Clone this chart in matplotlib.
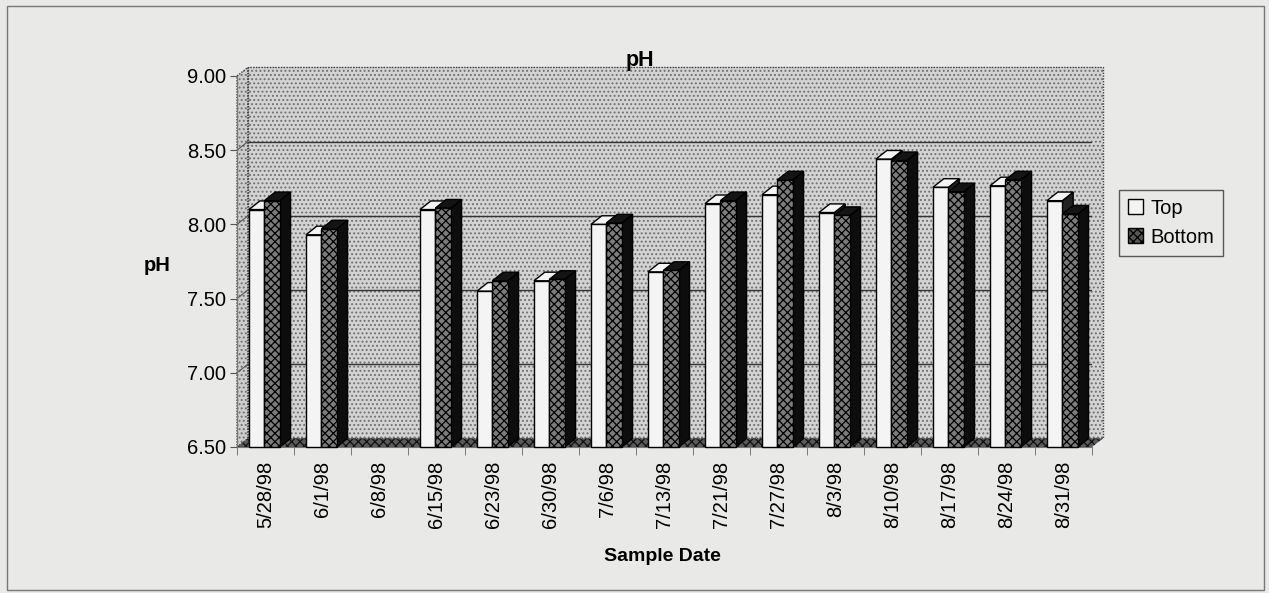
import numpy as np
import matplotlib
matplotlib.use("Agg")
import matplotlib.pyplot as plt
from matplotlib.patches import Polygon, Rectangle, Patch

plt.rcParams["font.family"] = ["Liberation Sans", "DejaVu Sans"]
plt.rcParams["hatch.linewidth"] = 0.9

# data (6/8/98 has no values)
dates = ["5/28/98", "6/1/98", "6/8/98", "6/15/98", "6/23/98", "6/30/98", "7/6/98",
         "7/13/98", "7/21/98", "7/27/98", "8/3/98", "8/10/98", "8/17/98", "8/24/98",
         "8/31/98"]
ph_top = [8.10, 7.93, np.nan, 8.10, 7.55, 7.62, 8.00,
          7.68, 8.14, 8.20, 8.08, 8.44, 8.25, 8.26, 8.16]
ph_bottom = [8.16, 7.97, np.nan, 8.11, 7.62, 7.63, 8.01,
             7.69, 8.16, 8.30, 8.06, 8.43, 8.22, 8.30, 8.07]
y_ticks = [6.5, 7.0, 7.5, 8.0, 8.5, 9.0]

BG = "#e9e9e7"
Y0, Y1 = 6.5, 9.0
DX, DY = 0.19, 0.058  # fake 3-D depth offset
BAR_W = 0.27


def stipple(ax, pts, face, dots, hatch="....", z=1):
    ax.add_patch(Polygon(pts, closed=True, facecolor=face, edgecolor="none",
                         zorder=z, clip_on=False))
    ax.add_patch(Polygon(pts, closed=True, fill=False, edgecolor=dots, hatch=hatch,
                         linewidth=0, zorder=z, clip_on=False))


def bar3d(ax, left, h, front, top, side, hatch=None, z=5):
    r = left + BAR_W
    side_pts = [(r, Y0), (r + DX, Y0 + DY), (r + DX, h + DY), (r, h)]
    top_pts = [(left, h), (r, h), (r + DX, h + DY), (left + DX, h + DY)]
    ax.add_patch(Polygon(side_pts, facecolor=side, edgecolor="black", lw=1.0,
                         zorder=z, clip_on=False))
    ax.add_patch(Polygon(top_pts, facecolor=top, edgecolor="black", lw=1.0,
                         zorder=z, clip_on=False))
    ax.add_patch(Rectangle((left, Y0), BAR_W, h - Y0, facecolor=front,
                           edgecolor="black", lw=1.0, hatch=hatch, zorder=z,
                           clip_on=False))


fig = plt.figure(figsize=(12.69, 5.93), dpi=100, facecolor=BG)
fig.patches.append(Rectangle((7 / 1269, 3 / 593), 1257 / 1269, 584 / 593,
                             transform=fig.transFigure, fill=False,
                             edgecolor="#777777", lw=1.0))

ax = fig.add_axes([237 / 1269, 1 - 447 / 593, 855 / 1269, 371 / 593])
ax.set_facecolor("none")
x = np.arange(len(dates))
xmin, xmax = -0.5, len(dates) - 0.5
ax.set_xlim(xmin, xmax)
ax.set_ylim(Y0, Y1)

# walls and floor
back = [(xmin + DX, Y0 + DY), (xmax + DX, Y0 + DY), (xmax + DX, Y1 + DY), (xmin + DX, Y1 + DY)]
side = [(xmin, Y0), (xmin + DX, Y0 + DY), (xmin + DX, Y1 + DY), (xmin, Y1)]
floor = [(xmin, Y0), (xmax, Y0), (xmax + DX, Y0 + DY), (xmin + DX, Y0 + DY)]
stipple(ax, back, "#d3d3d3", "#707070")
stipple(ax, side, "#cdcdcd", "#707070")
stipple(ax, floor, "#5a5a5a", "#111111", hatch="xxxx")
for pts in (back, side):
    ax.add_patch(Polygon(pts, fill=False, edgecolor="#444444", lw=1.0, ls=(0, (1, 1)),
                         zorder=2, clip_on=False))
for v in y_ticks[1:-1]:
    ax.plot([xmin + DX, xmax + DX], [v + DY, v + DY], color="#333333", lw=1.0, zorder=2)
    ax.plot([xmin, xmin + DX], [v, v + DY], color="#555555", lw=0.8, zorder=2)

for xi, t, b in zip(x, ph_top, ph_bottom):
    if not np.isnan(t):
        bar3d(ax, xi - 0.29, t, "#f4f4f4", "#f4f4f4", "#222222")
    if not np.isnan(b):
        bar3d(ax, xi - 0.02, b, "#7c7c7c", "#141414", "#0d0d0d", hatch="xxxx")

for s in ("top", "right"):
    ax.spines[s].set_visible(False)
for s in ("left", "bottom"):
    ax.spines[s].set_color("#777777")
    ax.spines[s].set_linewidth(0.8)

ax.set_yticks(y_ticks)
ax.set_yticklabels([f"{v:.2f}" for v in y_ticks], fontsize=14.5)
ax.tick_params(axis="y", length=5, color="#555555", pad=3)
ax.set_xticks(x)
ax.set_xticklabels(dates, rotation=90, fontsize=14.5)
ax.set_xticks(np.arange(xmin, xmax + 0.01, 1.0), minor=True)
ax.tick_params(axis="x", which="major", length=0, pad=10)
ax.tick_params(axis="x", which="minor", length=6, color="#666666")

fig.text(0.504, 0.898, "pH", ha="center", va="center", fontsize=15.5, fontweight="bold")
fig.text(0.124, 0.553, "pH", ha="center", va="center", fontsize=14.5, fontweight="bold")
fig.text(0.522, 0.062, "Sample Date", ha="center", va="center", fontsize=14,
         fontweight="bold")

handles = [Patch(facecolor="#f4f4f4", edgecolor="black", label="Top"),
           Patch(facecolor="#555555", edgecolor="black", hatch="xxxx", label="Bottom")]
leg = fig.legend(handles=handles, loc="upper left", bbox_to_anchor=(0.882, 0.68),
                 bbox_transform=fig.transFigure, fontsize=14.5, frameon=True,
                 fancybox=False, handlelength=0.75, handleheight=0.75,
                 handletextpad=0.35, borderpad=0.45, labelspacing=0.5,
                 borderaxespad=0)
leg.get_frame().set_edgecolor("#333333")
leg.get_frame().set_facecolor(BG)
leg.get_frame().set_linewidth(1.0)

fig.savefig("out.png", dpi=100, facecolor=BG)
